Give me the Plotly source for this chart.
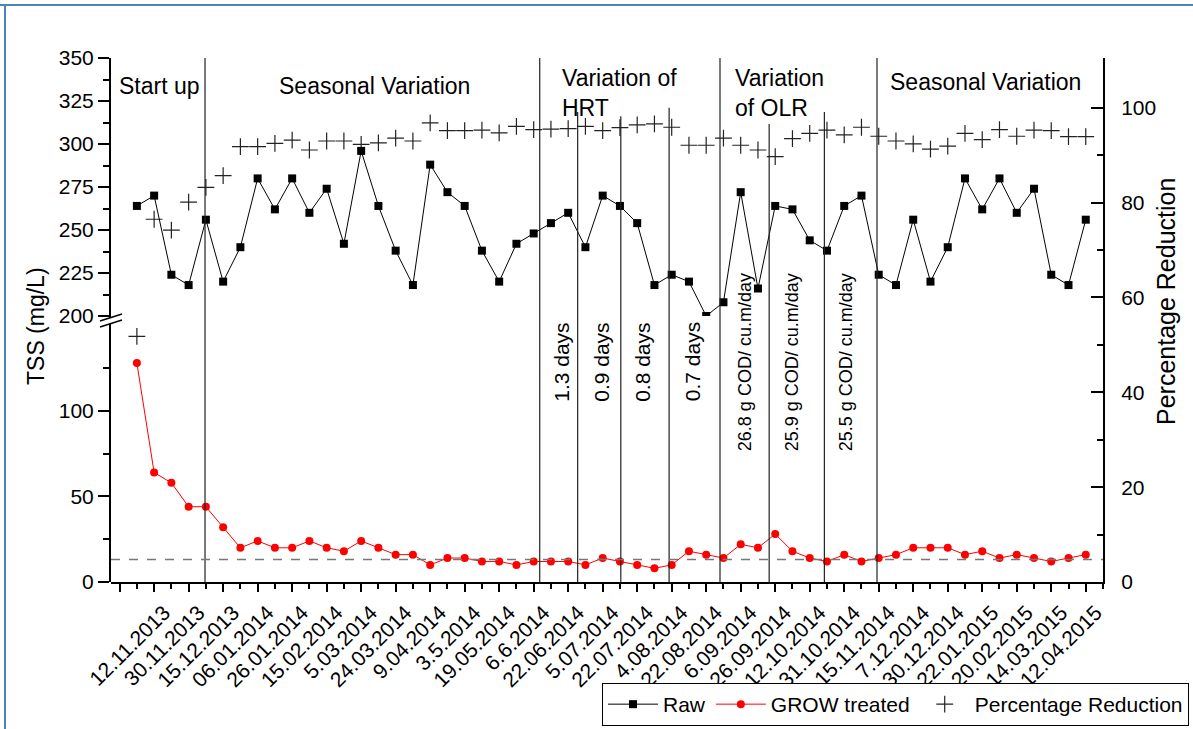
import plotly.graph_objects as go

# ---------------- data ----------------
dates = ["12.11.2013", "30.11.2013", "15.12.2013", "06.01.2014", "26.01.2014", "15.02.2014",
         "5.03.2014", "24.03.2014", "9.04.2014", "3.5.2014", "19.05.2014", "6.6.2014",
         "22.06.2014", "5.07.2014", "22.07.2014", "4.08.2014", "22.08.2014", "6.09.2014",
         "26.09.2014", "12.10.2014", "31.10.2014", "15.11.2014", "7.12.2014", "30.12.2014",
         "22.01.2015", "20.02.2015", "14.03.2015", "12.04.2015"]

raw = [264, 270, 224, 218, 256, 220, 240, 280, 262, 280, 260, 274, 242, 296, 264, 238,
       218, 288, 272, 264, 238, 220, 242, 248, 254, 260, 240, 270, 264, 254, 218, 224,
       220, 200, 208, 272, 216, 264, 262, 244, 238, 264, 270, 224, 218, 256, 220, 240,
       280, 262, 280, 260, 274, 224, 218, 256]

treated = [128, 64, 58, 44, 44, 32, 20, 24, 20, 20, 24, 20, 18, 24, 20, 16,
           16, 10, 14, 14, 12, 12, 10, 12, 12, 12, 10, 14, 12, 10, 8, 10,
           18, 16, 14, 22, 20, 28, 18, 14, 12, 16, 12, 14, 16, 20,
           20, 20, 16, 18, 14, 16, 14, 12, 14, 16]

pct = [51.8, 76.5, 74.2, 80.1, 83.2, 85.7, 91.8, 91.8, 92.5, 93.2, 91.1, 93.0, 93.0, 92.3, 92.6, 93.6,
       93.0, 96.8, 95.2, 95.2, 95.3, 94.7, 96.1, 95.4, 95.5, 95.6, 96.1, 95.2, 95.8, 96.4, 96.6, 95.9,
       92.1, 92.1, 93.6, 92.1, 91.1, 89.7, 93.5, 94.6, 95.3, 94.3, 95.9, 94.0, 93.0, 92.4,
       91.3, 91.9, 94.6, 93.3, 95.4, 94.0, 95.3, 95.2, 93.9, 93.9]

sample_no = list(range(1, len(raw) + 1))
label_pos = [0] + [2 * (i + 1) for i in range(len(dates))]
label_txt = [""] + dates

# phase separators (x in sample units, top in % units)
sep_x = [4.95, 24.35, 26.55, 29.05, 31.85, 34.8, 37.65, 40.85, 43.9]
sep_top = [110.5, 111.2, 99.1, 98.2, 100.0, 110.5, 96.6, 99.1, 110.5]

# phase labels (text, x, y in %, anchor)
phase_labels = [("Start up", 2.33, 104.6, "center"),
                ("Seasonal Variation", 14.77, 104.6, "center"),
                ("Variation of<br>HRT", 25.5, 103.2, "left"),
                ("Variation<br>of OLR", 35.57, 103.2, "left"),
                ("Seasonal Variation", 50.19, 105.5, "center")]
hrt_labels = [("1.3 days", 25.63), ("0.9 days", 27.95), ("0.8 days", 30.33), ("0.7 days", 33.25)]
olr_labels = [("26.8 g COD/ cu.m/day", 36.26), ("25.9 g COD/ cu.m/day", 38.99),
              ("25.5 g COD/ cu.m/day", 42.12)]
rot_label_y = 46.4
limit_tss = 13.1

FONT = "Arial, 'Liberation Sans', sans-serif"

# ---------------- figure ----------------
W, H = 1193, 729
ML, MR, MT, MB = 111, 90, 58, 147
PW, PH = W - ML - MR, H - MT - MB


def px(xp):
    return (xp - ML) / PW


def py(yp):
    return (H - MB - yp) / PH


fig = go.Figure()

fig.add_trace(go.Scatter(x=sample_no, y=raw, xaxis="x", yaxis="y3", name="Raw",
                         mode="lines+markers", line=dict(color="black", width=1),
                         marker=dict(symbol="square", size=8, color="black")))
fig.add_trace(go.Scatter(x=sample_no, y=treated, xaxis="x", yaxis="y2", name="GROW treated",
                         mode="lines+markers", line=dict(color="red", width=1),
                         marker=dict(symbol="circle", size=8, color="red")))
fig.add_trace(go.Scatter(x=sample_no, y=pct, xaxis="x", yaxis="y", name="Percentage Reduction",
                         mode="markers",
                         marker=dict(symbol="cross-thin", size=12, color="#222",
                                     line=dict(color="#222", width=1.2))))

split = 0.5076
TICKFONT = dict(family=FONT, size=21, color="black")
axis_common = dict(showline=True, linecolor="black", linewidth=2, showgrid=False,
                   zeroline=False, tickcolor="black", tickwidth=1.5, tickfont=TICKFONT,
                   automargin=False)

fig.update_layout(
    template="none",
    width=W, height=H,
    margin=dict(l=ML, r=MR, t=MT, b=MB, pad=0, autoexpand=False),
    paper_bgcolor="white", plot_bgcolor="rgba(0,0,0,0)",
    font=dict(family=FONT, color="black"),
    showlegend=True,
    legend=dict(orientation="h", xref="container", yref="container",
                x=1189 / W, xanchor="right", y=(H - 683) / H, yanchor="top",
                bordercolor="black", borderwidth=1, bgcolor="white",
                font=dict(family=FONT, size=21, color="black"),
                itemwidth=50, tracegroupgap=0),
    xaxis=dict(range=[-0.5, 57], anchor="y", domain=[0, 1],
               tickmode="array", tickvals=label_pos, ticktext=label_txt,
               tickangle=-45, ticks="outside", ticklen=8, ticklabelshift=10,
               minor=dict(tickmode="linear", tick0=0, dtick=1, ticks="outside", ticklen=5,
                          tickcolor="black", tickwidth=1.5),
               **axis_common),
    xaxis2=dict(range=[-0.5, 57], overlaying="x", side="top", anchor="y",
                tickmode="array", tickvals=label_pos, showticklabels=False,
                ticks="inside", ticklen=8,
                minor=dict(tickmode="linear", tick0=0, dtick=1, ticks="inside", ticklen=5,
                           tickcolor="black", tickwidth=1.5),
                **axis_common),
    yaxis=dict(range=[0, 110.5], domain=[0, 1], side="right", anchor="x",
               tickmode="array", tickvals=[0, 20, 40, 60, 80, 100],
               ticks="inside", ticklen=12, ticklabelstandoff=12,
               minor=dict(tickmode="array", tickvals=[10, 30, 50, 70, 90], ticks="inside",
                          ticklen=6, tickcolor="black", tickwidth=1.5),
               **axis_common),
    yaxis2=dict(range=[0, 155.5], domain=[0, split], side="left", anchor="x",
                tickmode="array", tickvals=[0, 50, 100],
                ticks="outside", ticklen=11,
                minor=dict(tickmode="array", tickvals=[25, 75, 125], ticks="outside",
                           ticklen=6, tickcolor="black", tickwidth=1.5),
                **axis_common),
    yaxis3=dict(range=[200, 350], domain=[split, 1], side="left", anchor="x",
                tickmode="array", tickvals=[200, 225, 250, 275, 300, 325, 350],
                ticks="outside", ticklen=11,
                minor=dict(tickmode="array",
                           tickvals=[212.5, 237.5, 262.5, 287.5, 312.5, 337.5],
                           ticks="outside", ticklen=6, tickcolor="black", tickwidth=1.5),
                **axis_common),
)

shapes = []
# phase separator lines
for xs, yt in zip(sep_x, sep_top):
    shapes.append(dict(type="line", xref="x", yref="y", x0=xs, x1=xs, y0=0, y1=yt,
                       line=dict(color="#222", width=1.2), layer="above"))
# dashed limit line
shapes.append(dict(type="line", xref="paper", yref="y2", x0=0, x1=1, y0=limit_tss, y1=limit_tss,
                   line=dict(color="#777", width=1.5, dash="dash")))
# axis break marks
shapes.append(dict(type="path", xref="paper", yref="paper",
                   path=f"M {px(100)} {py(321)} L {px(122)} {py(314)} L {px(122)} {py(320)} "
                        f"L {px(100)} {py(327)} Z",
                   fillcolor="white", line=dict(width=0), layer="above"))
for yb in (321, 327):
    shapes.append(dict(type="line", xref="paper", yref="paper",
                       x0=px(100), y0=py(yb), x1=px(122), y1=py(yb - 7),
                       line=dict(color="black", width=1.5), layer="above"))
# blue frame (top and left)
shapes.append(dict(type="line", xref="paper", yref="paper", x0=px(0), x1=px(W), y0=py(5), y1=py(5),
                   line=dict(color="#4f81bd", width=2)))
shapes.append(dict(type="line", xref="paper", yref="paper", x0=px(5), x1=px(5), y0=py(4), y1=py(H),
                   line=dict(color="#4f81bd", width=2)))
fig.update_layout(shapes=shapes)

ann = []
for t, xv, yv, anc in phase_labels:
    ann.append(dict(text=t, x=xv, y=yv, xref="x", yref="y", showarrow=False, align="left",
                    font=dict(family=FONT, size=23, color="black"), xanchor=anc, yanchor="middle"))
for t, xv in hrt_labels:
    ann.append(dict(text=t, x=xv, y=rot_label_y, xref="x", yref="y", showarrow=False, textangle=-90,
                    font=dict(family=FONT, size=21, color="black"), xanchor="center", yanchor="middle"))
for t, xv in olr_labels:
    ann.append(dict(text=t, x=xv, y=rot_label_y, xref="x", yref="y", showarrow=False, textangle=-90,
                    font=dict(family=FONT, size=18, color="black"), xanchor="center", yanchor="middle"))
ann.append(dict(text="TSS (mg/L)", x=px(36), y=py(326), xref="paper", yref="paper", showarrow=False,
                textangle=-90, font=dict(family=FONT, size=23, color="black"),
                xanchor="center", yanchor="middle"))
ann.append(dict(text="Percentage Reduction", x=px(1166), y=py(302), xref="paper", yref="paper",
                showarrow=False, textangle=-90, font=dict(family=FONT, size=25, color="black"),
                xanchor="center", yanchor="middle"))
fig.update_layout(annotations=ann)

fig.write_html("out.html")
